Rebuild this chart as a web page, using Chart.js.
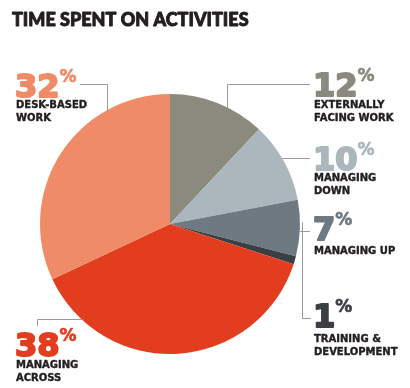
<!DOCTYPE html>
<html>
<head>
<meta charset="utf-8">
<script src="https://cdn.jsdelivr.net/npm/chart.js@4.4.1/dist/chart.umd.min.js"></script>
<style>
  html, body { margin: 0; padding: 0; background: #fff; }
  #chart { display: block; }
</style>
</head>
<body>
<canvas id="chart" width="410" height="388"></canvas>
<script>
// 数据
const categories = ['EXTERNALLY FACING WORK', 'MANAGING DOWN', 'MANAGING UP', 'TRAINING & DEVELOPMENT', 'MANAGING ACROSS', 'DESK-BASED WORK'];
const shares = [12, 10, 7, 1, 38, 32];
const labelLines = [
    ['EXTERNALLY', 'FACING WORK'],
    ['MANAGING', 'DOWN'],
    ['MANAGING UP'],
    ['TRAINING &', 'DEVELOPMENT'],
    ['MANAGING', 'ACROSS'],
    ['DESK-BASED', 'WORK']
];

// 样式
const sliceColors = ['#8a8a7e', '#abb6bd', '#6e7981', '#3b3f44', '#e33d20', '#ef8b66'];
const INK = '#231f20';
const LEAD = '#9a9a9a';
const TITLE_FONT = 'Lato, "DejaVu Sans", sans-serif';
const LABEL_FONT = '"DejaVu Sans", sans-serif';

// 标签位置 (numX, numBaseline, 第一行子标签基线) 及引线形状
const labelPos = [
    { x: 313, y: 96,  sub: 108, lead: 'v-up', lx: 227, ly: 84, ex: 310 },
    { x: 313, y: 170, sub: 181, lead: 'h', ly: 158, ex: 310 },
    { x: 313, y: 240, sub: 254, lead: 'h', ly: 231, ex: 310 },
    { x: 313, y: 327, sub: 342, lead: 'v-down', lx: 302, ly: 318, ex: 311 },
    { x: 15,  y: 356, sub: 368, lead: 'h-left-down', lx: 37, ly: 319, ey: 326 },
    { x: 15,  y: 97,  sub: 108, lead: 'v-up-left', lx: 107, ly: 84, ex: 80 }
];

// 加粗文字: 填充后再描边
function heavyText(ctx, text, x, y, color, weight) {
    ctx.fillStyle = color;
    ctx.strokeStyle = color;
    ctx.lineWidth = weight;
    ctx.lineJoin = 'round';
    ctx.fillText(text, x, y);
    if (weight > 0) ctx.strokeText(text, x, y);
}

const calloutPlugin = {
    id: 'callouts',
    afterDraw(chart) {
        const ctx = chart.ctx;
        const arc = chart.getDatasetMeta(0).data[0];
        const cx = arc.x, cy = arc.y, r = arc.outerRadius;

        ctx.save();
        ctx.textBaseline = 'alphabetic';

        // 标题
        ctx.font = '900 18px ' + TITLE_FONT;
        heavyText(ctx, 'TIME SPENT ON ACTIVITIES', 12, 26, INK, 0.9);

        // 引线
        ctx.strokeStyle = LEAD;
        ctx.lineWidth = 1;
        ctx.lineJoin = 'miter';
        labelPos.forEach(p => {
            ctx.beginPath();
            if (p.lead === 'h') {
                const dx = Math.sqrt(Math.max(0, r * r - (p.ly - cy) * (p.ly - cy)));
                ctx.moveTo(cx + dx, p.ly + 0.5);
                ctx.lineTo(p.ex, p.ly + 0.5);
            } else if (p.lead === 'v-up' || p.lead === 'v-up-left') {
                const dy = Math.sqrt(Math.max(0, r * r - (p.lx - cx) * (p.lx - cx)));
                ctx.moveTo(p.lx + 0.5, cy - dy + 2);
                ctx.lineTo(p.lx + 0.5, p.ly + 0.5);
                ctx.lineTo(p.ex, p.ly + 0.5);
            } else if (p.lead === 'v-down') {
                const dy = Math.sqrt(Math.max(0, r * r - (p.lx - cx) * (p.lx - cx)));
                ctx.moveTo(p.lx + 0.5, cy + dy - 2);
                ctx.lineTo(p.lx + 0.5, p.ly + 0.5);
                ctx.lineTo(p.ex, p.ly + 0.5);
            } else if (p.lead === 'h-left-down') {
                const dx = Math.sqrt(Math.max(0, r * r - (p.ly - cy) * (p.ly - cy)));
                ctx.moveTo(cx - dx + 2, p.ly + 0.5);
                ctx.lineTo(p.lx + 0.5, p.ly + 0.5);
                ctx.lineTo(p.lx + 0.5, p.ey);
            }
            ctx.stroke();
        });

        // 数字与标签
        shares.forEach((v, i) => {
            const p = labelPos[i];
            const num = String(v);
            ctx.font = 'bold 32px ' + LABEL_FONT;
            heavyText(ctx, num, p.x, p.y, sliceColors[i], 2);
            const w = ctx.measureText(num).width;
            ctx.font = 'bold 17px ' + LABEL_FONT;
            heavyText(ctx, '%', p.x + w, p.y - 15, sliceColors[i], 0.6);

            ctx.font = 'bold 10px ' + LABEL_FONT;
            labelLines[i].forEach((line, j) => {
                heavyText(ctx, line, p.x + 1, p.sub + j * 12.5, INK, 0.4);
            });
        });
        ctx.restore();
    }
};

new Chart(document.getElementById('chart').getContext('2d'), {
    type: 'pie',
    data: {
        labels: categories,
        datasets: [{
            data: shares,
            backgroundColor: sliceColors,
            borderWidth: 0
        }]
    },
    options: {
        responsive: false,
        animation: false,
        layout: {
            padding: { left: 40, right: 110, top: 94, bottom: 34 }
        },
        plugins: {
            legend: { display: false },
            tooltip: { enabled: false },
            title: { display: false }
        }
    },
    plugins: [calloutPlugin]
});
</script>
</body>
</html>
